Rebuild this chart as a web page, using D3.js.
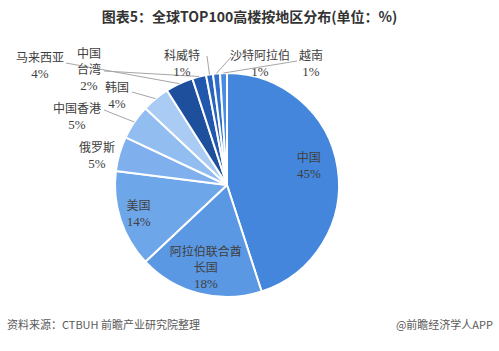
<!DOCTYPE html>
<html>
<head>
<meta charset="utf-8">
<script src="https://cdn.jsdelivr.net/npm/d3@7/dist/d3.min.js"></script>
<style>
  body { margin: 0; background: #fff; }
  svg { display: block; }
</style>
</head>
<body>
<div id="chart"></div>
<script>
// data, clockwise from 12 o'clock
var regions = ["中国", "阿拉伯联合酋长国", "美国", "俄罗斯", "中国香港", "韩国",
               "马来西亚", "中国台湾", "科威特", "沙特阿拉伯", "越南"];
var shares  = [45, 18, 14, 5, 5, 4, 4, 2, 1, 1, 1];
var colors  = ["#4386dc", "#5b98e4", "#6ea6ea", "#7fb0ed", "#92bdf0", "#a9cbf4",
               "#1e4f9c", "#2157ad", "#2864bd", "#2f6fcb", "#4a8de0"];

var titleText = "图表5：全球TOP100高楼按地区分布(单位：%)";
var sourceText = "资料来源：CTBUH 前瞻产业研究院整理";
var brandText = "@前瞻经济学人APP";

// label layout (manual, like the original)
var insideLines = {
  "中国": ["中国"],
  "阿拉伯联合酋长国": ["阿拉伯联合酋", "长国"],
  "美国": ["美国"]
};
var insideRadius = { "中国": 0.74, "阿拉伯联合酋长国": 0.76, "美国": 0.83 };
var insideNudge = { "中国": -6, "阿拉伯联合酋长国": 1, "美国": 0 };
var outside = {
  "马来西亚":   { lines: ["马来西亚"], x: 40,  y: 62, lx: 66,  ly: 63 },
  "中国台湾":   { lines: ["中国", "台湾"], x: 89, y: 58, lx: 104, ly: 71 },
  "韩国":       { lines: ["韩国"], x: 117, y: 92, lx: 132, ly: 92 },
  "中国香港":   { lines: ["中国香港"], x: 77, y: 113, lx: 104, ly: 110 },
  "俄罗斯":     { lines: ["俄罗斯"], x: 97, y: 152 },
  "科威特":     { lines: ["科威特"], x: 182, y: 60, lx: 207, ly: 56 },
  "沙特阿拉伯": { lines: ["沙特阿拉伯"], x: 260, y: 60, lx: 231, ly: 57 },
  "越南":       { lines: ["越南"], x: 311, y: 60, lx: 297, ly: 61 }
};

var w = 499, h = 351;
var cx = 227, cy = 185, r = 112;
var lineH = 16;
var cjk = "'Microsoft YaHei','Noto Sans CJK SC',sans-serif";
var serif = "'Times New Roman','Liberation Serif',serif";

var svg = d3.select("#chart").append("svg")
  .attr("width", w)
  .attr("height", h);

svg.append("text")
  .attr("x", w / 2)
  .attr("y", 22)
  .attr("text-anchor", "middle")
  .attr("font-family", cjk)
  .attr("font-size", "14px")
  .attr("font-weight", "bold")
  .attr("fill", "#333")
  .text(titleText);

var data = regions.map(function(d, i) {
  return { name: d, value: shares[i], color: colors[i] };
});

var pie = d3.pie().sort(null).value(function(d) { return d.value; });
var arcs = pie(data);

var arc = d3.arc().innerRadius(0).outerRadius(r);
var edgeArc = d3.arc().innerRadius(r).outerRadius(r);

var g = svg.append("g").attr("transform", "translate(" + cx + "," + cy + ")");

g.selectAll("path")
  .data(arcs)
  .enter()
  .append("path")
  .attr("d", arc)
  .attr("fill", function(d) { return d.data.color; })
  .attr("stroke", "#fff")
  .attr("stroke-width", 2)
  .attr("stroke-linejoin", "round");

// label helper: chinese lines in sans, value line in serif
function drawLabel(x, y, lines, value) {
  var t = svg.append("text")
    .attr("x", x)
    .attr("y", y)
    .attr("text-anchor", "middle")
    .attr("font-size", "12px")
    .attr("fill", "#404040");
  lines.forEach(function(s, i) {
    t.append("tspan")
      .attr("x", x)
      .attr("dy", i === 0 ? 0 : lineH)
      .attr("font-family", cjk)
      .text(s);
  });
  t.append("tspan")
    .attr("x", x)
    .attr("dy", lineH)
    .attr("font-family", serif)
    .attr("font-size", "13px")
    .text(value + "%");
}

arcs.forEach(function(a) {
  var name = a.data.name;
  if (insideLines[name]) {
    var rr = r * insideRadius[name];
    var c = d3.arc().innerRadius(rr).outerRadius(rr).centroid(a);
    var n = insideLines[name].length + 1;
    drawLabel(cx + c[0], cy + c[1] - (n - 1) * lineH / 2 + 4 + insideNudge[name],
              insideLines[name], a.data.value);
  } else if (outside[name]) {
    var o = outside[name];
    if (o.lx !== undefined) {
      var e = edgeArc.centroid(a);
      svg.append("line")
        .attr("x1", o.lx).attr("y1", o.ly)
        .attr("x2", cx + e[0]).attr("y2", cy + e[1])
        .attr("stroke", "#a6a6a6")
        .attr("stroke-width", 1);
    }
    drawLabel(o.x, o.y, o.lines, a.data.value);
  }
});

svg.append("text")
  .attr("x", 7)
  .attr("y", 329)
  .attr("font-family", cjk)
  .attr("font-size", "11px")
  .attr("fill", "#595959")
  .text(sourceText);

svg.append("text")
  .attr("x", 493)
  .attr("y", 329)
  .attr("text-anchor", "end")
  .attr("font-family", cjk)
  .attr("font-size", "11px")
  .attr("fill", "#595959")
  .text(brandText);
</script>
</body>
</html>
